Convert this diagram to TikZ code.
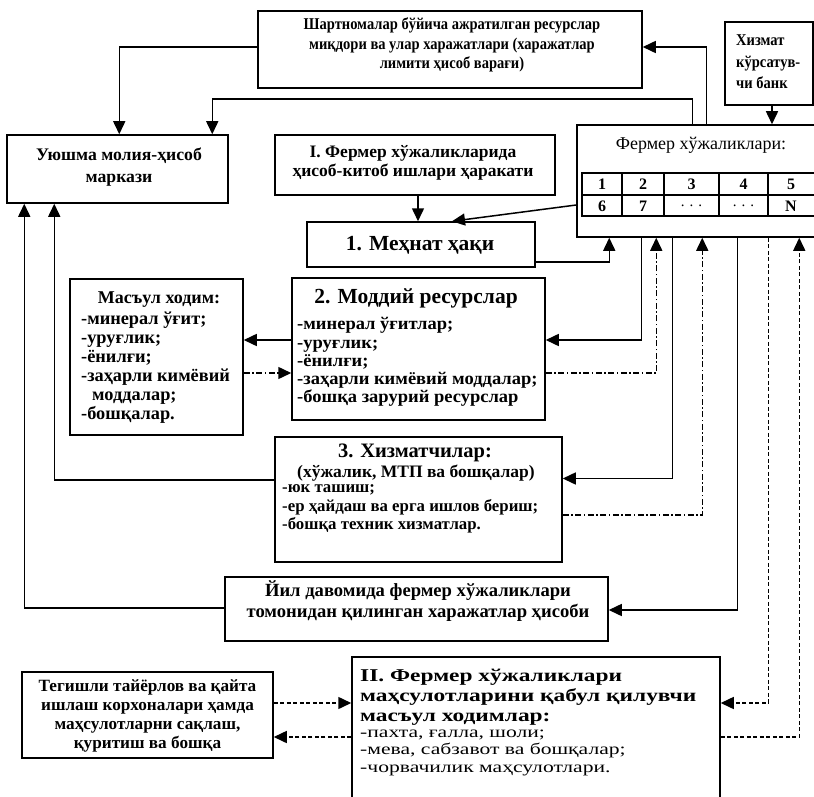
\documentclass[tikz,border=0pt]{standalone}
\usepackage{fontspec}
\setmainfont{Liberation Serif}
\newfontfamily\wideA{Liberation Serif}[FakeStretch=1.3]
\newfontfamily\wideB{Liberation Serif}[FakeStretch=1.35]
\newfontfamily\wideC{Liberation Serif}[FakeStretch=1.04]
\newfontfamily\narrowA{Liberation Serif}[FakeStretch=0.88]
\usetikzlibrary{arrows.meta,calc}
\begin{document}
\begin{tikzpicture}[x=1pt,y=-1pt,
  box/.style={draw,line width=1.5pt,rectangle,inner sep=0pt},
  arr/.style={line width=1.5pt,-{Triangle[length=13pt,width=12pt]}},
  dashdot/.style={dash pattern=on 6pt off 2.5pt on 1.5pt off 2.5pt},
  dsh/.style={dash pattern=on 4pt off 2.5pt},
  tb/.style={inner sep=0pt,align=center,font=\fontsize{17.5}{19.5}\selectfont\bfseries},
  tl/.style={inner sep=0pt,align=left,font=\fontsize{17.8}{18.2}\selectfont\bfseries},
  big/.style={inner sep=0pt,font=\fontsize{21.5}{24}\selectfont\bfseries},
  num/.style={inner sep=0pt,font=\fontsize{16}{18}\selectfont\bfseries}]
\useasboundingbox (0,0) rectangle (814,797);
% boxes
\node[box,minimum width=384,minimum height=77] (shart) at (450,49.5) {};
\node[box,minimum width=88,minimum height=83] (bank) at (769,63.5) {};
\node[box,minimum width=253,minimum height=112] (farm) at (703.5,181) {};
\node[box,minimum width=221,minimum height=68] (uy) at (117.5,169) {};
\node[box,minimum width=280,minimum height=60] (I) at (415,165) {};
\node[box,minimum width=228,minimum height=45] (meh) at (421,244.5) {};
\node[box,minimum width=253,minimum height=142] (mod) at (418.5,349) {};
\node[box,minimum width=173,minimum height=156] (mas) at (156.5,357) {};
\node[box,minimum width=287,minimum height=125] (xiz) at (418.5,499.5) {};
\node[box,minimum width=383,minimum height=64] (yil) at (416.5,609) {};
\node[box,minimum width=251,minimum height=86] (teg) at (147.5,715) {};
\node[box,minimum width=368,minimum height=153] (II) at (536,733.5) {};
% texts
\node[tb,font=\narrowA\fontsize{16.5}{19.5}\selectfont\bfseries] (shartT) at (452,45) {Шартномалар бўйича ажратилган ресурслар\\миқдори ва улар харажатлари (харажатлар\\лимити ҳисоб варағи)};
\node[tb,align=left,anchor=west,font=\narrowA\fontsize{16.5}{21.5}\selectfont\bfseries] (bankT) at (736,62) {Хизмат\\кўрсатув-\\чи банк};
\node[inner sep=0pt,font=\fontsize{18}{20}\selectfont] (farmT) at (701,145) {Фермер хўжаликлари:};
\node[tb,font=\fontsize{17.7}{22}\selectfont\bfseries] (uyT) at (119,167) {Уюшма молия-ҳисоб\\маркази};
\node[tb] (IT) at (413,163) {I. Фермер хўжаликларида\\ҳисоб-китоб ишлари ҳаракати};
\node[big] (mehT) at (420,245) {1. Меҳнат ҳақи};
\node[big] (modT) at (416,298) {2. Моддий ресурслар};
\node[tl,anchor=west,font=\wideC\fontsize{17.8}{18.2}\selectfont\bfseries] (modL) at (297,362) {-минерал ўғитлар;\\-уруғлик;\\-ёнилғи;\\-заҳарли кимёвий моддалар;\\-бошқа зарурий ресурслар};
\node[tb,font=\fontsize{18}{20}\selectfont\bfseries] (masT) at (159,300) {Масъул ходим:};
\node[tl,anchor=west,font=\fontsize{18.3}{19}\selectfont\bfseries] (masL) at (81,368) {-минерал ўғит;\\-уруғлик;\\-ёнилғи;\\-заҳарли кимёвий\\\hspace{0.6em}моддалар;\\-бошқалар.};
\node[big,font=\fontsize{20.5}{24}\selectfont\bfseries] (xizT) at (415,453) {3. Хизматчилар:};
\node[tb] (xizS) at (416,473) {(хўжалик, МТП ва бошқалар)};
\node[tl,anchor=west,font=\fontsize{16.8}{18.5}\selectfont\bfseries] (xizL) at (282,509) {-юк ташиш;\\-ер ҳайдаш ва ерга ишлов бериш;\\-бошқа техник хизматлар.};
\node[tb,font=\fontsize{18.6}{20.5}\selectfont\bfseries] (yilT) at (418,601) {Йил давомида фермер хўжаликлари\\томонидан қилинган харажатлар ҳисоби};
\node[tb,font=\fontsize{17.2}{19}\selectfont\bfseries] (tegT) at (147.5,715.5) {Тегишли тайёрлов ва қайта\\ишлаш корхоналари ҳамда\\маҳсулотларни сақлаш,\\қуритиш ва бошқа};
\node[inner sep=0pt,align=left,anchor=west,font=\wideA\fontsize{18}{20}\selectfont\bfseries] (IIT) at (360,697) {II. Фермер хўжаликлари\\маҳсулотларини қабул қилувчи\\масъул ходимлар:};
\node[inner sep=0pt,align=left,anchor=west,font=\wideB\fontsize{16}{17.5}\selectfont] (IIL) at (360,752.5) {-пахта, ғалла, шоли;\\-мева, сабзавот ва бошқалар;\\-чорвачилик маҳсулотлари.};
% table in farm box
\draw[line width=1.2pt] (582,173) rectangle (830,216) (582,195) -- (830,195)
  (622,173) -- (622,216) (664,173) -- (664,216) (719,173) -- (719,216) (768,173) -- (768,216);
\node[num] (c1) at (602,184.5) {1};
\node[num] (c2) at (643,184.5) {2};
\node[num] (c3) at (691.5,184.5) {3};
\node[num] (c4) at (743.5,184.5) {4};
\node[num] (c5) at (791,184.5) {5};
\node[num] (c6) at (602,206) {6};
\node[num] (c7) at (643,206) {7};
\node[inner sep=0pt,font=\fontsize{15}{15}\selectfont] (c8) at (691.5,206) {.\,\,.\,\,.};
\node[inner sep=0pt,font=\fontsize{15}{15}\selectfont] (c9) at (743.5,206) {.\,\,.\,\,.};
\node[num] (c10) at (791,206) {N};
% connectors
\draw[arr] ([yshift=2.5]shart.west) -| ([xshift=113]uy.north west);
\draw[arr] ([xshift=116]farm.north west) -- ++(0,-25) -| ([xshift=206]uy.north west);
\draw[arr] ([xshift=130]farm.north west) |- ([yshift=2.5]shart.east);
\draw[arr] ([xshift=3]bank.south) -- ([xshift=3]bank.south |- farm.north);
\draw[arr] ([xshift=3]I.south) -- ([xshift=3]I.south |- meh.north);
\draw[arr] ([yshift=-24]farm.west) -- ([xshift=31]meh.north);
\draw[arr] ([yshift=-17.5]meh.east) -| ([xshift=33]farm.south west);
\draw[arr] ([xshift=65]farm.south west) |- ([yshift=9]mod.east);
\draw[arr,dashdot] ([yshift=-24]mod.east) -| ([xshift=80]farm.south west);
\coordinate (m1) at ([yshift=9]mod.west);
\coordinate (m2) at ([yshift=-24]mod.west);
\draw[arr] (m1) -- (m1 -| mas.east);
\draw[arr,dashdot] (m2 -| mas.east) -- (m2);
\draw[arr] ([xshift=96]farm.south west) |- ([yshift=21]xiz.east);
\draw[arr,dashdot] ([yshift=-15.5]xiz.east) -| ([xshift=126]farm.south west);
\draw[arr] ([yshift=19.5]xiz.west) -| ([xshift=48]uy.south west);
\draw[arr] ([yshift=1]yil.west) -| ([xshift=18]uy.south west);
\draw[arr] ([xshift=161]farm.south west) |- ([yshift=-1]yil.east);
\draw[arr,dsh] ([xshift=192]farm.south west) |- ([yshift=30.5]II.east);
\draw[arr,dsh] ([yshift=-3.5]II.east) -| ([xshift=223]farm.south west);
\coordinate (t1) at ([yshift=12]teg.east);
\coordinate (t2) at ([yshift=-22]teg.east);
\draw[arr,dsh] (t1) -- (t1 -| II.west);
\draw[arr,dsh] (t2 -| II.west) -- (t2);
\end{tikzpicture}
\end{document}
